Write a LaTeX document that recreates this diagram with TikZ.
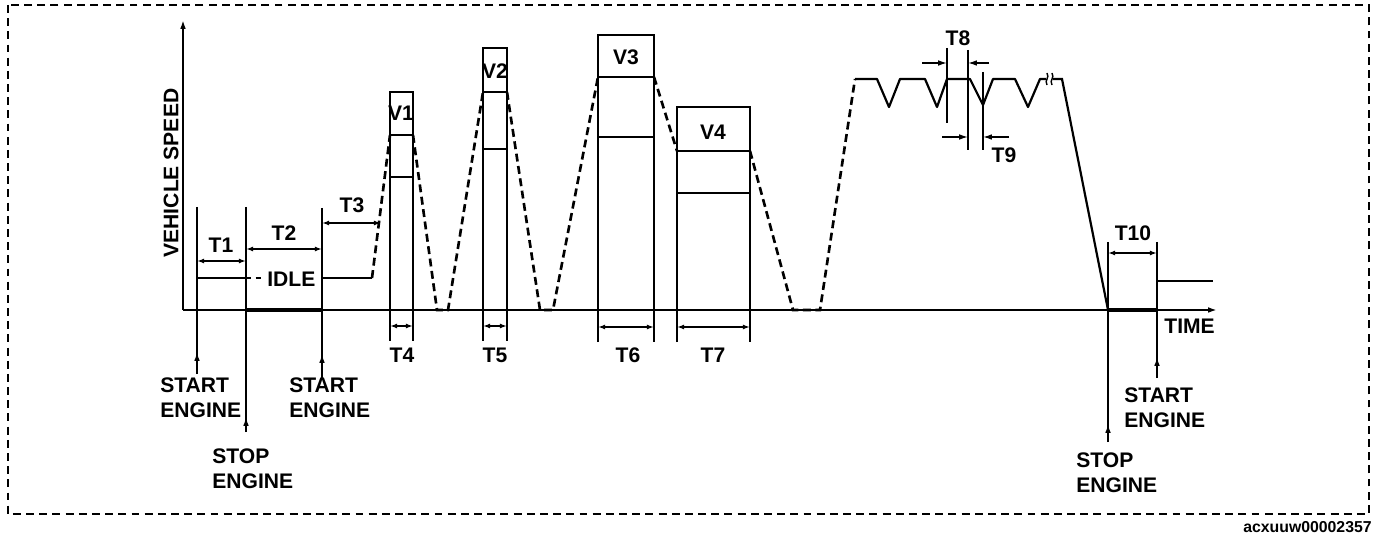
\documentclass[tikz,border=0pt]{standalone}
\usepackage{fontspec}
\setmainfont{Liberation Sans}
\usetikzlibrary{arrows.meta}

\begin{document}
\begin{tikzpicture}[x=0.02cm, y=-0.02cm, >={Latex[length=5pt,width=3.2pt]},
  axisline/.style={line width=1.3pt},
  wall/.style={line width=1.25pt},
  thinwall/.style={line width=0.8pt},
  ramp/.style={line width=1.5pt, dash pattern=on 4.5pt off 2.6pt},
  dim/.style={<->, line width=0.9pt, >={Latex[length=4pt,width=2.8pt]}},
  lbl/.style={font=\fontsize{12}{14.2}\selectfont\bfseries, inner sep=0pt},
  evt/.style={lbl, align=left, anchor=north west}]

\useasboundingbox (0,0) rectangle (1392,540);

% frame
\draw[line width=1.1pt, dash pattern=on 4.5pt off 3pt] (8,5) rectangle (1369,514);
\node[anchor=east, font=\fontsize{9}{10}\selectfont\bfseries, inner sep=0pt] (code) at (1372,527) {acxuuw00002357};

% axes
\draw[axisline,->] (183,310) -- (183,20);
\draw[axisline,->] (183,310) -- (1217,310);
\node[lbl, rotate=90] (speed) at (171,173) {VEHICLE SPEED};
\node[lbl, anchor=north west] (time) at (1164,319) {TIME};

% idle, engine off, restart
\draw[wall] (197,207) -- (197,374);
\draw[->, wall] (197,374) -- (197,352);
\draw[wall] (246,207) -- (246,432);
\draw[->, wall] (246,432) -- (246,417);
\draw[wall] (322,208) -- (322,378);
\draw[->, wall] (322,378) -- (322,354);
\draw[wall] (197,278) -- (246,278);
\draw[thinwall, dash pattern=on 3pt off 2.5pt] (246,278) -- (264,278);
\node[lbl, anchor=west] (idle) at (267,279) {IDLE};
\draw[line width=2pt] (246,310) -- (322,310);
\draw[wall] (322,278) -- (372,278);
\draw[ramp] (372,278) -- (390,135);

\draw[dim] (197,261) -- (246,261);
\draw[dim] (246,249) -- (322,249);
\draw[dim] (322,223) -- (381,223);
\node[lbl] (t1) at (221,245) {T1};
\node[lbl] (t2) at (284,233) {T2};
\node[lbl] (t3) at (352,205) {T3};

% speed boxes V1..V4
\draw[wall] (390,341) -- (390,92) -- (413,92) -- (413,341);
\draw[wall] (390,135) -- (413,135);
\draw[thinwall] (390,177) -- (413,177);
\node[lbl] (v1) at (401,113) {V1};

\draw[wall] (483,341) -- (483,48) -- (507,48) -- (507,341);
\draw[wall] (483,92) -- (507,92);
\draw[thinwall] (483,149) -- (507,149);
\node[lbl] (v2) at (495,71) {V2};

\draw[wall] (598,342) -- (598,35) -- (654,35) -- (654,342);
\draw[wall] (598,77) -- (654,77);
\draw[thinwall] (598,137) -- (654,137);
\node[lbl] (v3) at (626,57) {V3};

\draw[wall] (677,342) -- (677,107) -- (750,107) -- (750,342);
\draw[wall] (677,151) -- (750,151);
\draw[thinwall] (677,193) -- (750,193);
\node[lbl] (v4) at (713,132) {V4};

% ramps between the boxes
\draw[ramp] (413,135) -- (437,310) -- (448,310) -- (483,92);
\draw[ramp] (507,92) -- (540,310) -- (553,310) -- (598,77);
\draw[ramp] (654,77) -- (677,151);
\draw[ramp] (750,151) -- (793,310) -- (820,310) -- (855,79);

\draw[dim] (390,326) -- (413,326);
\draw[dim] (483,326) -- (507,326);
\draw[dim] (598,327) -- (654,327);
\draw[dim] (677,327) -- (750,327);
\node[lbl] (t4) at (402,355) {T4};
\node[lbl] (t5) at (495,355) {T5};
\node[lbl] (t6) at (628,355) {T6};
\node[lbl] (t7) at (713,355) {T7};

% cruise with dips
\draw[wall, line join=round] (855,79) -- (877,79) -- (889,107) -- (900,79) -- (925,79)
  -- (937,107) -- (947,79) -- (970,79) -- (983,105) -- (993,79) -- (1015,79)
  -- (1028,107) -- (1040,79) -- (1046,79);
\draw[thinwall] (1047,85) .. controls (1044,80) and (1050,78) .. (1047,73);
\draw[thinwall] (1052,85) .. controls (1049,80) and (1055,78) .. (1052,73);
\draw[wall] (1053,79) -- (1062,79) -- (1108,310);

\draw[wall] (947,48) -- (947,123);
\draw[thinwall] (968,50) -- (968,150);
\draw[wall] (983,72) -- (983,150);
\draw[->, thinwall] (922,63) -- (947,63);
\draw[->, thinwall] (989,63) -- (968,63);
\draw[->, thinwall] (942,137) -- (968,137);
\draw[->, thinwall] (1009,137) -- (983,137);
\node[lbl] (t8) at (958,38) {T8};
\node[lbl] (t9) at (1004,155) {T9};

% stop and restart
\draw[wall] (1108,242) -- (1108,442);
\draw[->, wall] (1108,442) -- (1108,424);
\draw[wall] (1157,242) -- (1157,378);
\draw[->, wall] (1157,378) -- (1157,357);
\draw[line width=2pt] (1108,310) -- (1157,310);
\draw[wall] (1157,310) -- (1157,281) -- (1213,281);
\draw[dim] (1108,253) -- (1157,253);
\node[lbl] (t10) at (1133,233) {T10};

\node[evt] (start1) at (160,377) {START\\ENGINE};
\node[evt] (stop1) at (212,448) {STOP\\ENGINE};
\node[evt] (start2) at (289,377) {START\\ENGINE};
\node[evt] (stop2) at (1076,452) {STOP\\ENGINE};
\node[evt] (start3) at (1124,387) {START\\ENGINE};

\end{tikzpicture}
\end{document}
